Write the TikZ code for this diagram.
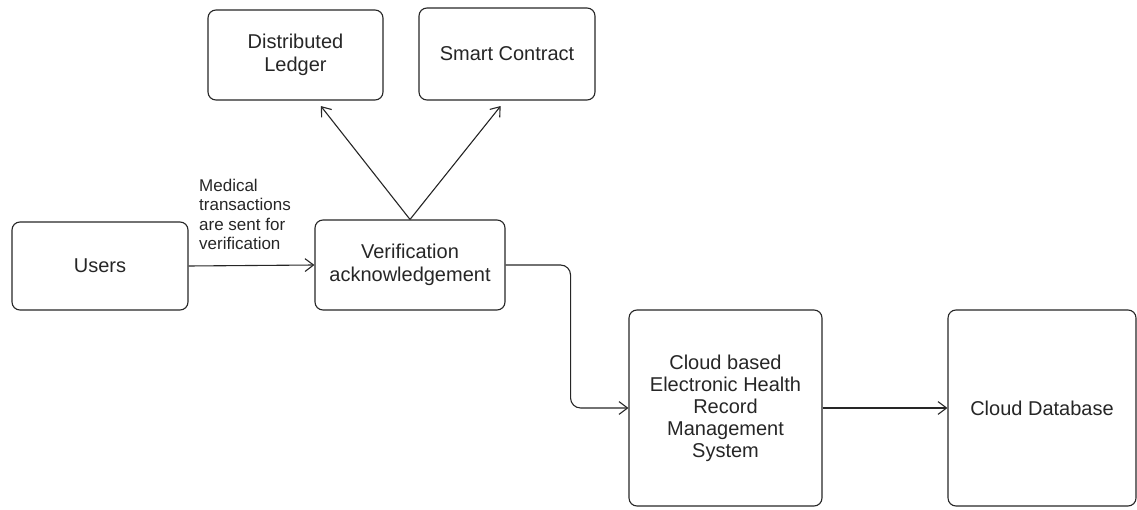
\documentclass[tikz,border=0pt]{standalone}
\usepackage{fontspec}
\setmainfont{Liberation Sans}
\usepackage{tikz}
\usetikzlibrary{positioning,arrows.meta}
\usepackage{xcolor}

\begin{document}
\begin{tikzpicture}[x=1pt,y=-1pt,>={Straight Barb[length=3mm,width=4.5mm]},
  box/.style={draw=black!85,rounded corners=8pt,line width=1.1pt,align=center,inner sep=0pt,
    font=\fontsize{20}{23}\selectfont,text=black!85},
  link/.style={->,draw=black!85,line width=1.1pt}]
\useasboundingbox (0,0) rectangle (1137,510);
\node[box,minimum width=176pt,minimum height=88pt] (users) at (100,266) {Users};
\node[box,minimum width=190pt,minimum height=90pt] (verif) at (410,265) {Verification\\acknowledgement};
\node[box,minimum width=175pt,minimum height=90pt] (ledger) at (295.5,55) {Distributed\\Ledger};
\node[box,minimum width=176pt,minimum height=92pt] (contract) at (507,54) {Smart Contract};
\node[box,minimum width=193pt,minimum height=196pt,font=\fontsize{20}{22}\selectfont] (ehr) at (725.5,408) {Cloud based\\Electronic Health\\Record\\Management\\System};
\node[box,minimum width=188pt,minimum height=196pt] (clouddb) at (1042,408) {Cloud Database};
\node[anchor=south west,align=left,inner sep=0pt,text=black!85,font=\fontsize{17}{19.5}\selectfont] (note) at (199,250) {Medical\\transactions\\are sent for\\verification};
\draw[link] (users.east) -- (verif.west);
\draw[link,shorten >=7pt] (verif.north) -- ([xshift=21pt]ledger.south);
\draw[link,shorten >=7pt] (verif.north) -- ([xshift=-2pt]contract.south);
\draw[link,rounded corners=10pt] (verif.east) -- ++(65,0) |- (ehr.west);
\draw[link] (ehr.east) -- (clouddb.west);
\end{tikzpicture}
\end{document}
